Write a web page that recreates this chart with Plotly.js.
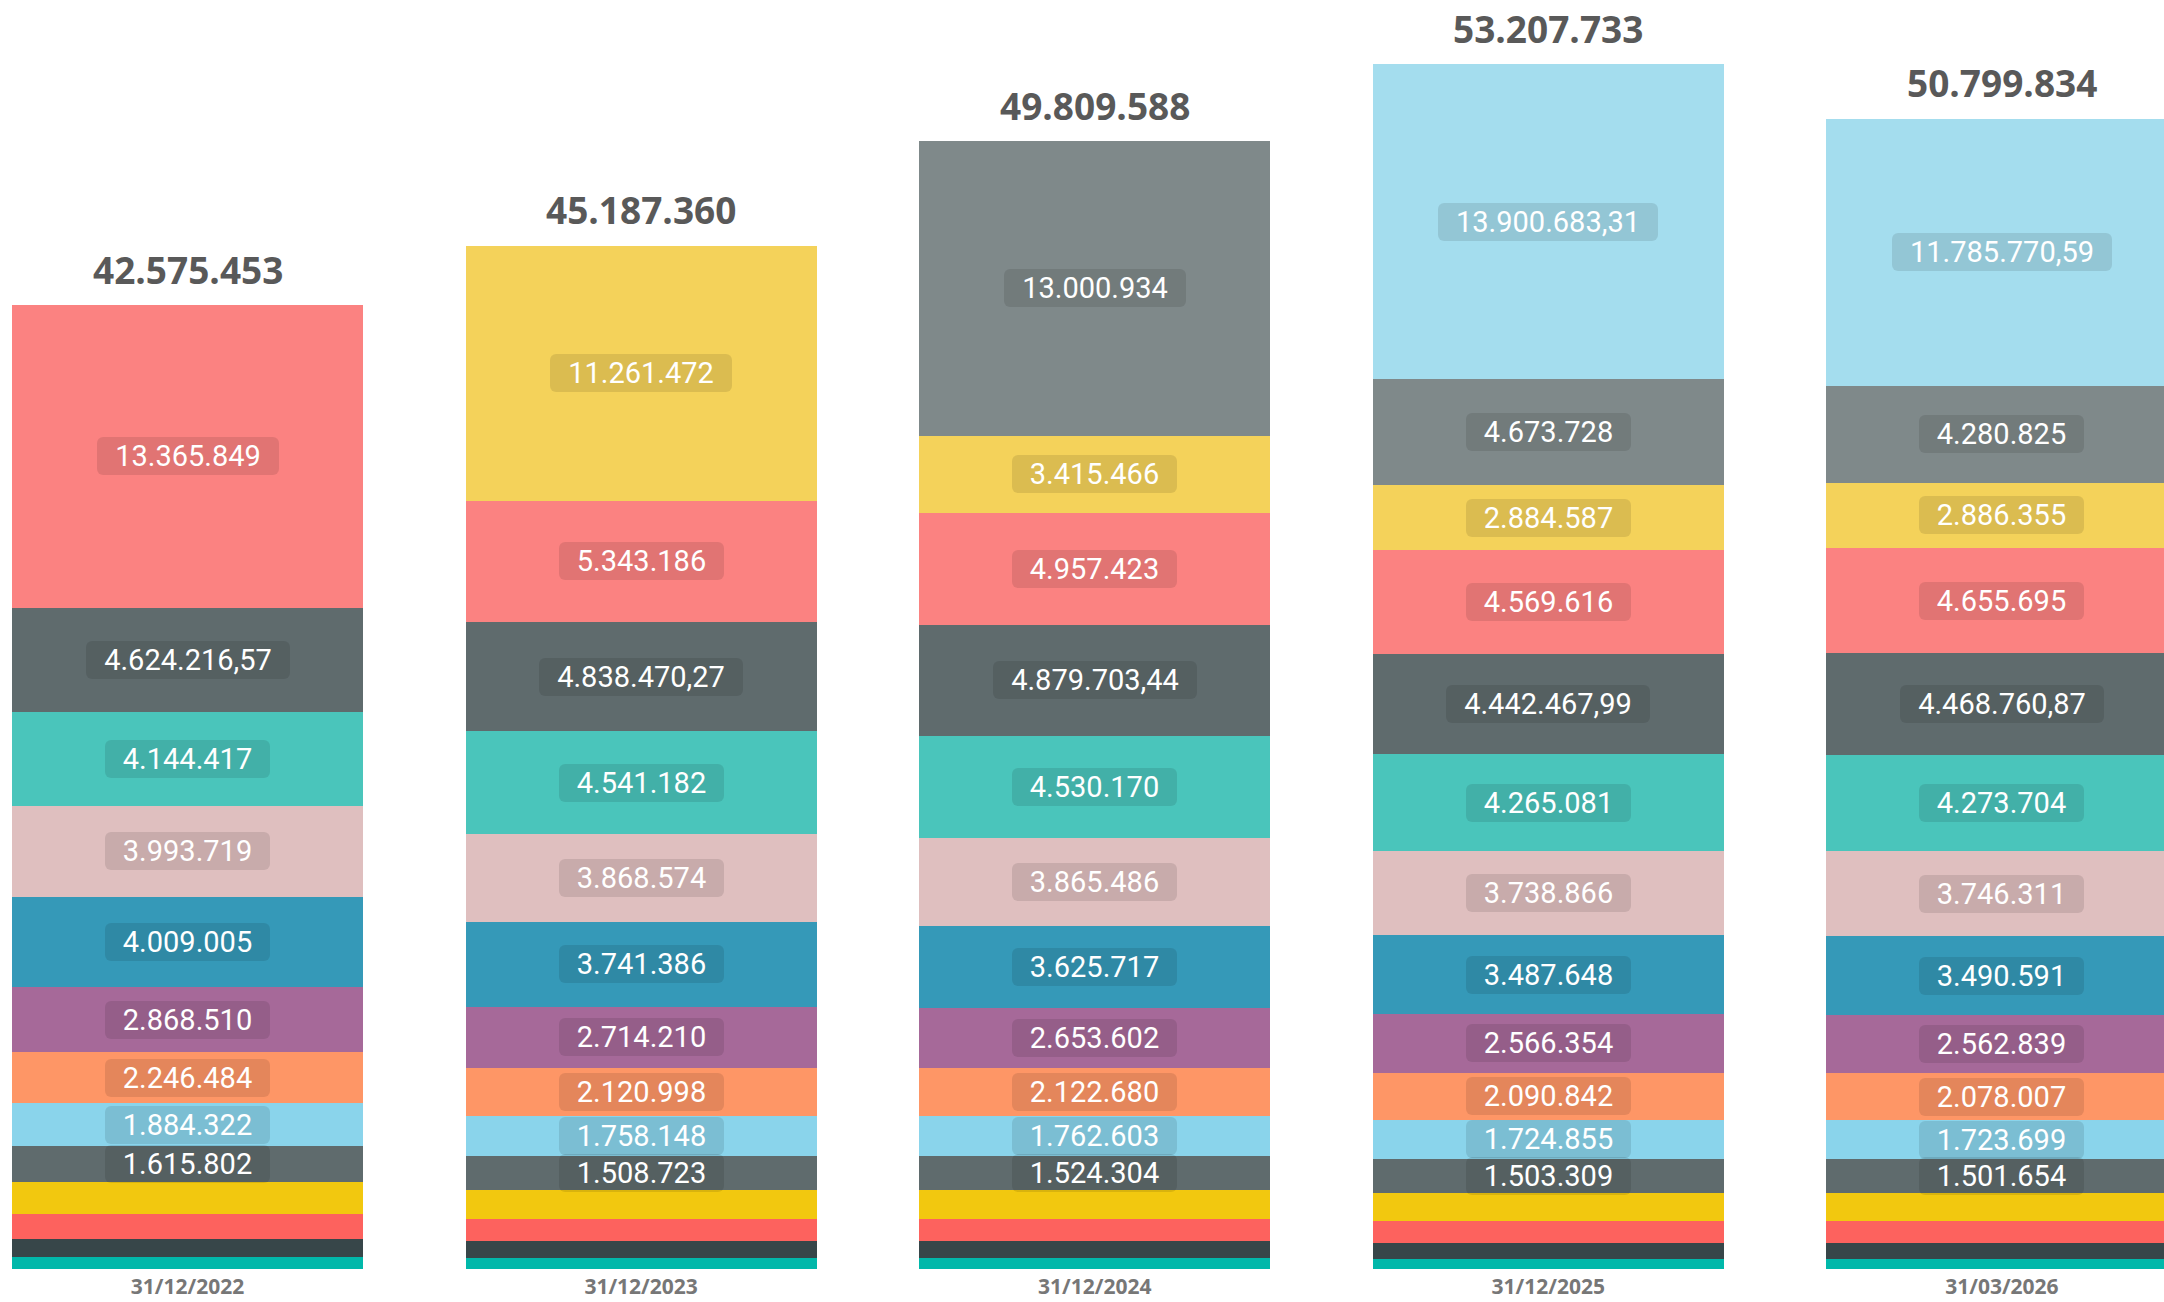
<!DOCTYPE html>
<html>
<head>
<meta charset="utf-8">
<script src="https://cdn.plot.ly/plotly-3.0.1.min.js"></script>
<style>
  html, body { margin: 0; padding: 0; background: #fff; }
  #chart { width: 2164px; height: 1302px; }
</style>
</head>
<body>
<div id="chart"></div>
<script>
const dates = ['31/12/2022', '31/12/2023', '31/12/2024', '31/12/2025', '31/03/2026'];
const totals = [42575453, 45187360, 49809588, 53207733, 50799834];

// series, from the bottom of the stack upwards (null = not in that period)
const s01 = [514000, 473000, 470000, 430000, 429000];
const s02 = [795000, 755000, 752000, 710000, 719000];
const s03 = [1101000, 977000, 970000, 980000, 958000];
const s04 = [1413000, 1286000, 1280000, 1240000, 1240000];
const s05 = [1615802, 1508723, 1524304, 1503309, 1501654];
const s06 = [1884322, 1758148, 1762603, 1724855, 1723699];
const s07 = [2246484, 2120998, 2122680, 2090842, 2078007];
const s08 = [2868510, 2714210, 2653602, 2566354, 2562839];
const s09 = [4009005, 3741386, 3625717, 3487648, 3490591];
const s10 = [3993719, 3868574, 3865486, 3738866, 3746311];
const s11 = [4144417, 4541182, 4530170, 4265081, 4273704];
const s12 = [4624216.57, 4838470.27, 4879703.44, 4442467.99, 4468760.87];
const s13 = [13365849, 5343186, 4957423, 4569616, 4655695];
const s14 = [null, 11261472, 3415466, 2884587, 2886355];
const s15 = [null, null, 13000934, 4673728, 4280825];
const s16 = [null, null, null, 13900683.31, 11785770.59];

const series = [s01, s02, s03, s04, s05, s06, s07, s08, s09, s10, s11, s12, s13, s14, s15, s16];
const showLabel = [false, false, false, false, true, true, true, true, true, true, true, true, true, true, true, true];

const colors = ['#01B8AA', '#374649', '#FD625E', '#F2C80F', '#5F6B6D', '#8AD4EB', '#FE9666', '#A66999',
                '#3599B8', '#DFBFBF', '#4AC5BB', '#5F6B6D', '#FB8281', '#F4D25A', '#7F898A', '#A4DDEE'];

// 1234567.89 -> "1.234.567,89"
function fmt(v) {
    let dec = Number.isInteger(v) ? 0 : 2;
    let parts = v.toFixed(dec).split('.');
    let intPart = parts[0].replace(/\B(?=(\d{3})+(?!\d))/g, '.');
    return parts.length > 1 ? intPart + ',' + parts[1] : intPart;
}

const labelFont = { family: 'Roboto', size: 29, color: '#ffffff' };
const ctx = document.createElement('canvas').getContext('2d');
ctx.font = labelFont.size + 'px ' + labelFont.family;

let data = series.map((vals, i) => ({
    type: 'bar',
    name: 'Serie ' + (i + 1),
    x: dates,
    y: vals,
    marker: { color: colors[i], line: { width: 0 } },
    hoverinfo: 'skip',
    showlegend: false
}));

let annotations = [];
for (let j = 0; j < dates.length; j++) {
    let base = 0;
    for (let i = 0; i < series.length; i++) {
        let v = series[i][j];
        if (v === null) continue;
        if (showLabel[i]) {
            let txt = fmt(v);
            annotations.push({
                x: dates[j],
                y: base + v / 2,
                text: txt,
                showarrow: false,
                font: labelFont,
                bgcolor: 'rgba(0,0,0,0.1)',
                borderpad: 0,
                borderwidth: 0,
                width: Math.round(ctx.measureText(txt).width + 36),
                height: 38
            });
        }
        base += v;
    }
    annotations.push({
        x: dates[j],
        y: totals[j],
        text: fmt(totals[j]),
        showarrow: false,
        yanchor: 'middle',
        yshift: 36,
        font: { family: 'Open Sans', size: 37, color: '#595959', weight: 'bold' }
    });
}

let layout = {
    barmode: 'stack',
    bargap: 0.226,
    width: 2164,
    height: 1302,
    margin: { l: 0, r: 0, t: 0, b: 33, pad: 0 },
    paper_bgcolor: '#ffffff',
    plot_bgcolor: '#ffffff',
    xaxis: {
        type: 'category',
        range: [-0.4134, 4.3574],
        showgrid: false,
        zeroline: false,
        showline: false,
        ticks: '',
        ticklabelstandoff: 3,
        automargin: false,
        tickfont: { family: 'Open Sans', size: 21, color: '#777777', weight: 'bold' }
    },
    yaxis: {
        range: [0, 56050000],
        visible: false,
        showgrid: false,
        zeroline: false,
        automargin: false
    },
    annotations: annotations
};

Plotly.newPlot('chart', data, layout, { displayModeBar: false, staticPlot: true }).then(() => {
    // rounded label boxes
    document.querySelectorAll('.annotation rect.bg').forEach(r => {
        r.setAttribute('rx', 6);
        r.setAttribute('ry', 6);
    });
});
</script>
</body>
</html>
